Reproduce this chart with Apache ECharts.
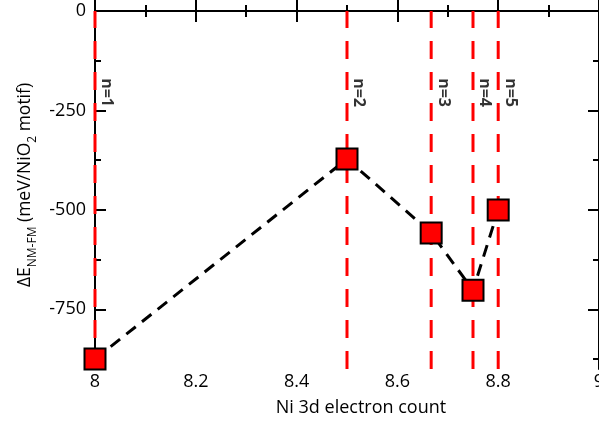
<!DOCTYPE html>
<html><head><meta charset="utf-8">
<script src="https://cdn.jsdelivr.net/npm/echarts@6/dist/echarts.min.js"></script>
<style>html,body{margin:0;padding:0;background:#fff}#c{width:599px;height:426px}</style>
</head><body><div id="c"></div>
<script>
// Data
const electronCount = [8, 8.5, 8.667, 8.75, 8.8];
const deltaE = [-875, -372, -558, -702, -500];
const nLabels = ['n=1', 'n=2', 'n=3', 'n=4', 'n=5'];
const labelY = -205;
const yTickValues = [0, -250, -500, -750];
const yMinorTickValues = [-125, -375, -625, -875];
const xRange = [8, 9];
const yRange = [-900, 0];

const FONT = 'Open Sans';
const chart = echarts.init(document.getElementById('c'), null, {renderer: 'canvas'});

const axisLine = {show: true, lineStyle: {color: '#000', width: 2}};
function xAx(pos, showLabels) {
  return {
    type: 'value', position: pos, min: xRange[0], max: xRange[1], interval: 0.2,
    axisLine: axisLine,
    axisTick: {show: true, inside: true, length: 11, lineStyle: {color: '#000', width: 2}},
    minorTick: {show: true, splitNumber: 2, length: 6, lineStyle: {color: '#000', width: 2}},
    splitLine: {show: false}, minorSplitLine: {show: false},
    axisLabel: {show: showLabels, color: '#000', fontFamily: FONT, fontSize: 18, margin: 4,
      formatter: v => String(+v.toFixed(1))},
    name: showLabels ? 'Ni 3d electron count' : '',
    nameLocation: 'middle', nameGap: 30,
    nameTextStyle: {color: '#000', fontFamily: FONT, fontSize: 18, padding: [0, 0, 0, 28]}
  };
}
function yAx(pos, vals, len, showLabels, showLine) {
  const o = {
    type: 'value', position: pos, min: yRange[0], max: yRange[1],
    axisLine: showLine ? axisLine : {show: false},
    axisTick: {show: true, inside: true, length: len, customValues: vals, lineStyle: {color: '#000', width: 2}},
    splitLine: {show: false},
    axisLabel: {show: showLabels, customValues: vals, color: '#000', fontFamily: FONT, fontSize: 18, margin: 9},
  };
  if (showLabels) {
    o.name = '{n|ΔE}{s|NM-FM}{n| (meV/NiO}{s|2}{n| motif)}';
    o.nameLocation = 'middle';
    o.nameGap = 60;
    o.nameTextStyle = {color: '#000', fontFamily: FONT, fontSize: 17.5, padding: [0, 0, 0, 10],
      rich: {n: {fontFamily: FONT, fontSize: 17.5, color: '#000', lineHeight: 22, verticalAlign: 'bottom'},
             s: {fontFamily: FONT, fontSize: 12, color: '#000', lineHeight: 22, verticalAlign: 'bottom', padding: [0, 0, -4, 0]}}};
  }
  return o;
}

const series = [];
electronCount.forEach((x, i) => {
  series.push({
    type: 'line', xAxisIndex: 0, yAxisIndex: 0, symbol: 'none', silent: true, z: 1,
    data: [[x, yRange[0]], [x, yRange[1]]],
    lineStyle: {color: '#ff0000', width: 3, type: [18, 13]}
  });
});
series.push({
  type: 'scatter', xAxisIndex: 0, yAxisIndex: 0, symbolSize: 0, z: 3, silent: true,
  itemStyle: {color: 'rgba(0,0,0,0)'},
  data: electronCount.map((x, i) => ({value: [x, labelY], name: nLabels[i]})),
  label: {show: true, formatter: p => p.name, position: 'inside', offset: [0, -12], rotate: -90,
    color: '#000', fontFamily: FONT, fontWeight: 'bold', fontSize: 16,
    textBorderWidth: 0, textBorderColor: 'transparent'}
});
series.push({
  type: 'line', xAxisIndex: 0, yAxisIndex: 0, z: 5,
  data: electronCount.map((x, i) => [x, deltaE[i]]),
  symbol: 'rect', symbolSize: 21,
  itemStyle: {color: '#ff0000', borderColor: '#000', borderWidth: 2, opacity: 1},
  lineStyle: {color: '#000', width: 3, type: [12, 8]}
});

chart.setOption({
  animation: false,
  backgroundColor: '#fff',
  grid: {left: 95, right: 0, top: 11, bottom: 57, containLabel: false, outerBoundsMode: 'none'},
  xAxis: [xAx('bottom', true), xAx('top', false)],
  yAxis: [
    yAx('left', yTickValues, 11, true, true),
    yAx('left', yMinorTickValues, 6, false, false),
    yAx('right', yTickValues, 11, false, true),
    yAx('right', yMinorTickValues, 6, false, false)
  ],
  series: series
});
</script></body></html>
